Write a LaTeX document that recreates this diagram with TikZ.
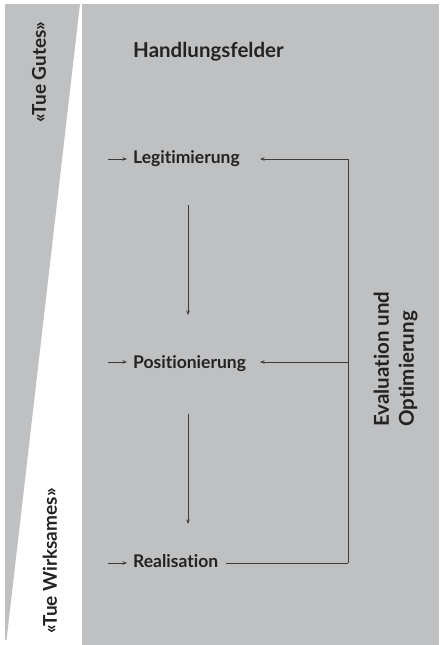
\documentclass[tikz,border=0pt]{standalone}
\usepackage{fontspec}
\setmainfont[Ligatures=NoCommon]{Lato}
\usetikzlibrary{arrows.meta}
\definecolor{panel}{HTML}{BFC0C2}
\definecolor{ink}{HTML}{232323}
\definecolor{wire}{HTML}{3A3A3A}
\tikzset{
  lbl/.style={font=\bfseries\fontsize{17.5}{20}\selectfont, text=ink, inner sep=0pt},
  side/.style={font=\bfseries\fontsize{19}{22}\selectfont, text=ink, inner sep=0pt, rotate=90},
  arr/.style={draw=wire, line width=0.8pt, -{Stealth[length=4.5pt,width=3.5pt]}},
  wireline/.style={draw=wire, line width=0.8pt}
}
\begin{document}
\begin{tikzpicture}[x=1pt,y=1pt]
\useasboundingbox (0,0) rectangle (439,-645);
\fill[white] (0,0) rectangle (439,-645);
% main panel
\fill[panel] (81.5,-4) rectangle (439,-645);
% wedge strip on the left
\fill[panel] (5,-4) -- (80,-4) -- (6.5,-640) -- (5,-640) -- cycle;

% side labels
\node[side] (gutes) at (39,-72) {«Tue Gutes»};
\node[side] (wirk) at (50,-561) {«Tue Wirksames»};

% heading
\node[lbl, font=\bfseries\fontsize{20.5}{24}\selectfont, anchor=base west] (head) at (133,-57) {Handlungsfelder};

% fields
\node[lbl, anchor=base west] (leg) at (133,-163) {Legitimierung};
\node[lbl, anchor=base west] (pos) at (133,-368) {Positionierung};
\node[lbl, anchor=base west] (real) at (133,-567) {Realisation};

% entry arrows
\coordinate (in1) at (108,-159);
\coordinate (in2) at (108,-362);
\coordinate (in3) at (108,-563);
\draw[arr, shorten >=6pt] (in1) -- (in1 -| leg.west);
\draw[arr, shorten >=6pt] (in2) -- (in2 -| pos.west);
\draw[arr, shorten >=6pt] (in3) -- (in3 -| real.west);

% downward flow
\coordinate (d1a) at (188,-205);
\coordinate (d1b) at (188,-315);
\coordinate (d2a) at (188,-414);
\coordinate (d2b) at (188,-524);
\draw[arr] (d1a) -- (d1b);
\draw[arr] (d2a) -- (d2b);

% feedback loop
\coordinate (fbtop) at (348,-159);
\coordinate (fbmid) at (348,-362);
\coordinate (fbbot) at (348,-563);
\draw[wireline] (fbtop) -- (fbbot);
\draw[arr] (fbtop) -- (260,-159);
\draw[arr] (fbmid) -- (260,-362);
\draw[wireline, shorten >=8pt] (fbbot) -- (fbbot -| real.east);

% loop label
\node[lbl, font=\bfseries\fontsize{20.5}{25}\selectfont, rotate=90, align=left, anchor=west] (eval) at (395.5,-427) {Evaluation und\\Optimierung};
\end{tikzpicture}
\end{document}
